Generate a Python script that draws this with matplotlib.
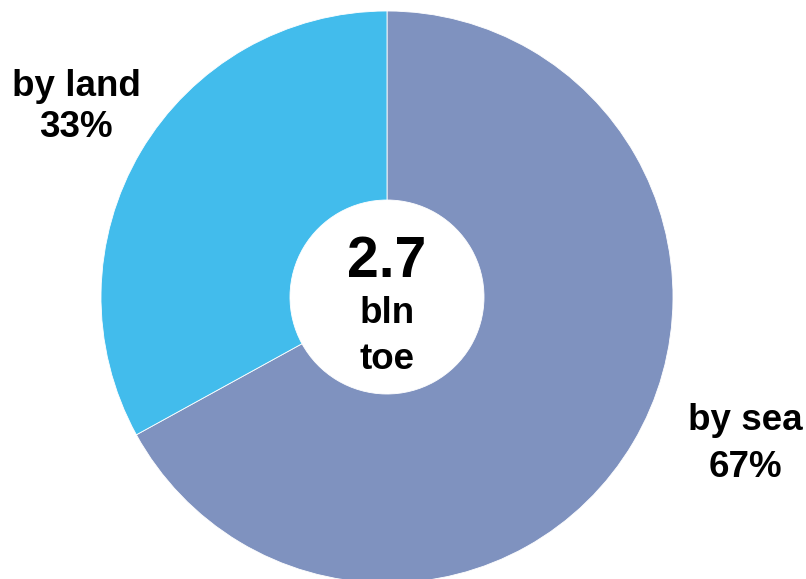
import matplotlib
matplotlib.use("Agg")
import matplotlib.pyplot as plt

# Energy exports split by transport route
categories = ["by sea", "by land"]
shares = [67, 33]
colors = ["#7F92BF", "#42BCEC"]
total_value = "2.7"
total_unit = ["bln", "toe"]

W, H = 806, 579
fig = plt.figure(figsize=(W / 100, H / 100), dpi=100)
ax = fig.add_axes([0, 0, 1, 1])

cx, cy = 387, H - 297
r_out, r_in = 286, 97

ax.pie(shares, colors=colors, startangle=90, counterclock=False,
       center=(cx, cy), radius=r_out, frame=True,
       wedgeprops=dict(width=r_out - r_in, edgecolor="white", linewidth=0.6))
ax.set_xlim(0, W)
ax.set_ylim(0, H)
ax.set_aspect("equal")
ax.axis("off")

font = dict(family=["Liberation Sans", "DejaVu Sans"], fontweight="bold",
            ha="center", va="baseline", color="black")

# Slice labels (name above, share below)
ax.text(745, H - 430, categories[0], fontsize=26.5, **font)
ax.text(745, H - 477, f"{shares[0]}%", fontsize=26.5, **font)
ax.text(76, H - 96, categories[1], fontsize=26.5, **font)
ax.text(76, H - 137, f"{shares[1]}%", fontsize=26.5, **font)

# Total in the hole
ax.text(cx, H - 277, total_value, fontsize=41, **font)
ax.text(cx, H - 323, total_unit[0], fontsize=26.5, **font)
ax.text(cx, H - 369, total_unit[1], fontsize=26.5, **font)

fig.savefig("out.png", dpi=100)
